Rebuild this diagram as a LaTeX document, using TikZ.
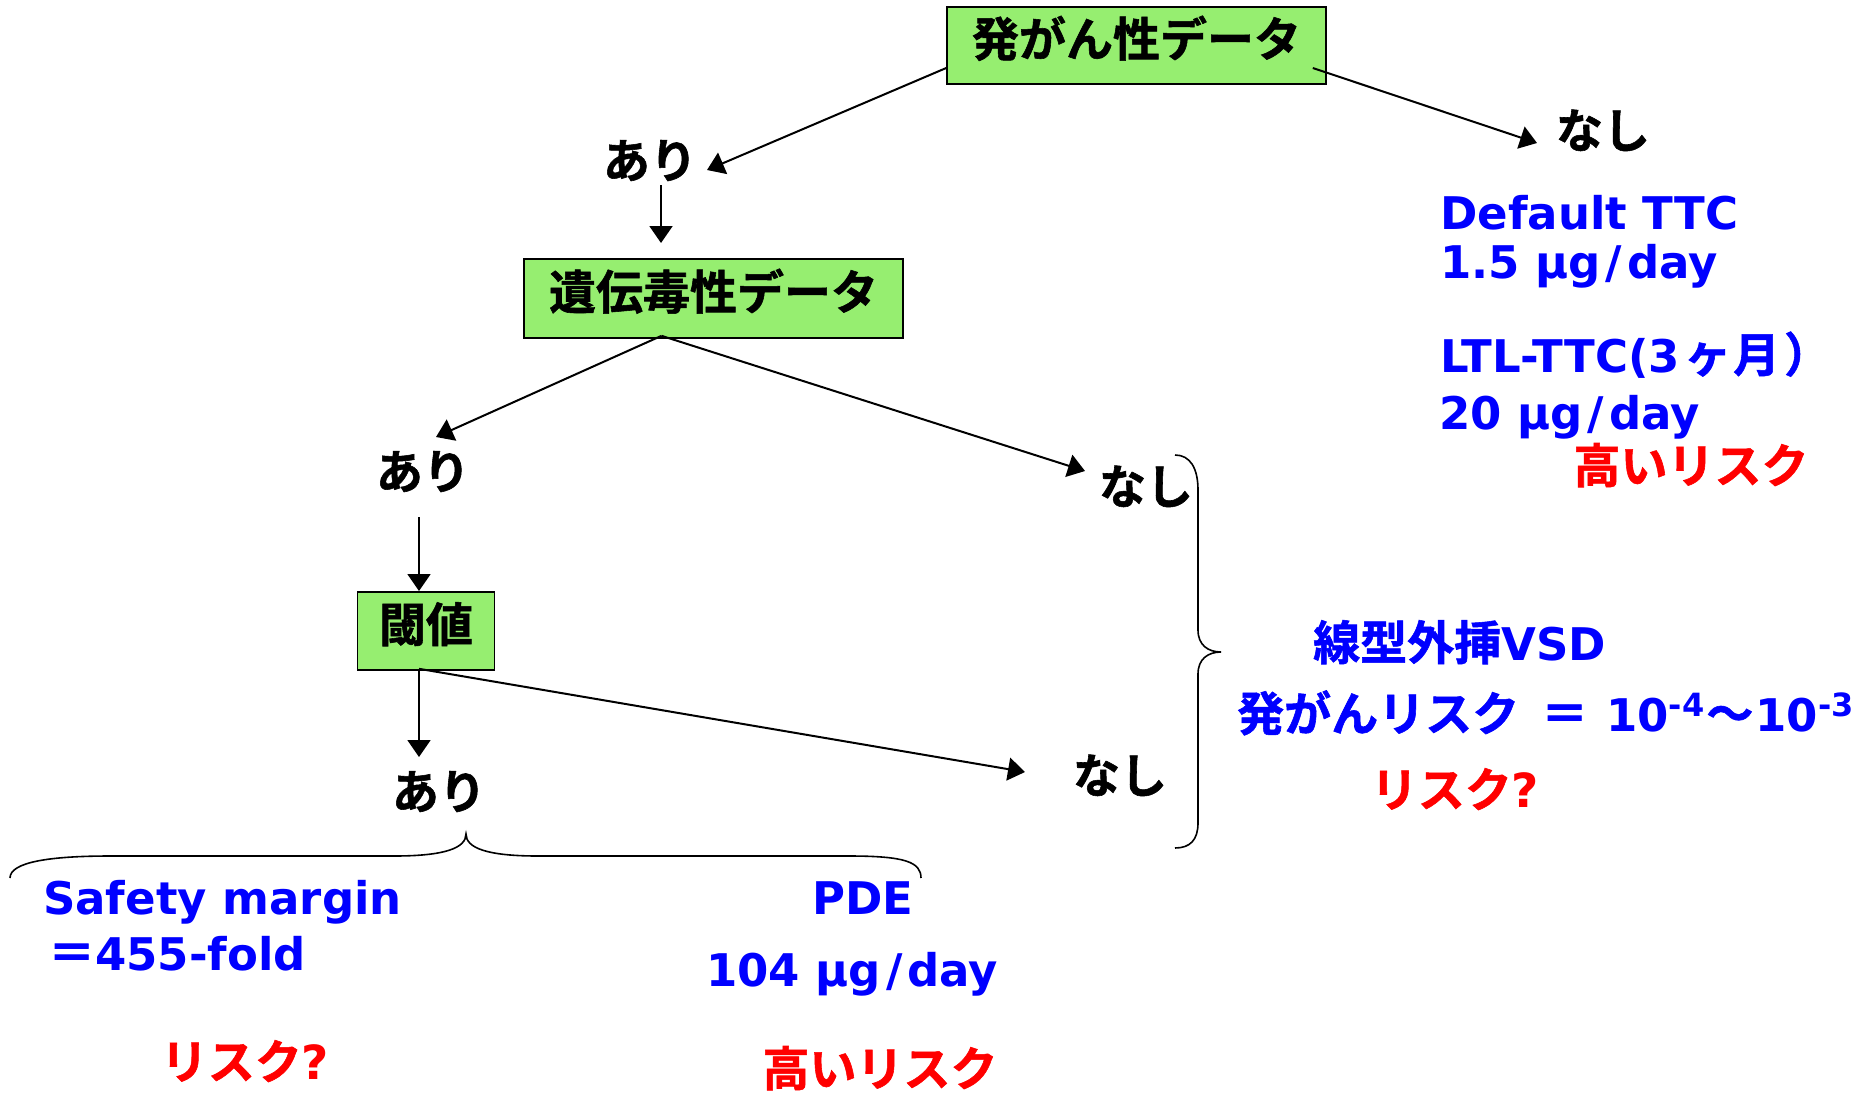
\documentclass[tikz,border=0pt]{standalone}
\usepackage{fontspec}
\setmainfont{DejaVu Sans}
\newfontfamily\jpf{Noto Sans CJK JP}[BoldFont={Noto Sans CJK JP Bold}, BoldFeatures={FakeBold=1.2}]
\usetikzlibrary{arrows.meta}
\definecolor{boxgreen}{RGB}{150,238,112}
\definecolor{tblue}{RGB}{0,0,255}
\definecolor{tred}{RGB}{255,0,0}
\newcommand\supx[1]{\raisebox{15pt}{\fontsize{32}{34}\selectfont #1}}
\newcommand\jb{\jpf\bfseries\fontsize{47}{56}\selectfont}
\newcommand\slx{\kern5pt/\kern5pt}
\begin{document}
\begin{tikzpicture}[x=1pt,y=-1pt,
  jp/.style={font={\jpf\bfseries\fontsize{47}{56}\selectfont}, inner sep=0pt, text height=36pt, text depth=2pt},
  en/.style={font={\bfseries\fontsize{45}{54}\selectfont}, inner sep=0pt, anchor=base west, text=tblue},
  gbox/.style={draw, line width=1.6pt, fill=boxgreen, inner sep=0pt, text height=30pt, text depth=8pt,
    font={\jpf\bfseries\fontsize{47}{56}\selectfont}},
  arr/.style={line width=2pt, -{Triangle[length=17pt,width=23pt]}},
  bracestyle/.style={line width=1.6pt}]
\useasboundingbox (0,0) rectangle (1868,1093);
\fill[white] (0,0) rectangle (1868,1093);

% boxes
\node[gbox, minimum width=379pt, minimum height=77pt] (b1) at (1136.5,45.5) {発がん性データ};
\node[gbox, minimum width=379pt, minimum height=79pt] (b2) at (713.5,298.5) {遺伝毒性データ};
\node[gbox, minimum width=137pt, minimum height=78pt] (b3) at (426,631) {閾値};

% black labels
\node[jp] (n1) at (1603,131) {なし};
\node[jp] (a1) at (650,161) {あり};
\node[jp] (a2) at (423,472) {あり};
\node[jp] (n2) at (1146,487) {なし};
\node[jp] (a3) at (439,792) {あり};
\node[jp] (n3) at (1120,776) {なし};

% connector end points
\coordinate (t1) at (707,170);
\coordinate (t2) at (1537,143);
\coordinate (s3) at (661,185);
\coordinate (t3) at (661,243);
\coordinate (t4) at (436,437);
\coordinate (t5) at (1085,471);
\coordinate (s6) at (419,517);
\coordinate (t6) at (419,591);
\coordinate (t7) at (419,757);
\coordinate (t8) at (1025,772);

\draw[arr] ([yshift=-22.5pt]b1.west) -- (t1);
\draw[arr] ([xshift=-14pt,yshift=-22.5pt]b1.east) -- (t2);
\draw[arr] (s3) -- (t3);
\draw[arr] ([xshift=-52pt,yshift=3pt]b2.south) -- (t4);
\draw[arr] ([xshift=-52pt,yshift=3pt]b2.south) -- (t5);
\draw[arr] (s6) -- (t6);
\draw[arr] ([xshift=-7pt,yshift=2pt]b3.south) -- (t7);
\draw[arr] ([xshift=-7pt,yshift=2pt]b3.south) -- (t8);

% braces
\draw[bracestyle] (1175,455) .. controls (1190,455) and (1198,468) .. (1198,490)
  -- (1198,630) .. controls (1198,645) and (1208,652) .. (1221,652)
  .. controls (1208,652) and (1198,659) .. (1198,674)
  -- (1198,823) .. controls (1198,840) and (1190,848) .. (1175,848);
\draw[bracestyle] (10,878) .. controls (10,862) and (50,856) .. (110,856)
  -- (394,856) .. controls (445,856) and (466,848) .. (466,834)
  .. controls (466,848) and (487,856) .. (538,856)
  -- (849,856) .. controls (905,856) and (921,862) .. (921,878);

% blue texts
\node[en] (d1) at (1440,229) {Default TTC};
\node[en] (d2) at (1440,278) {1.5 µg\slx day};
\node[en] (d3) at (1440,372) {LTL-TTC(3\kern4pt{\jb ヶ\kern2pt 月\kern4pt ）}};
\node[en] (d4) at (1439,429) {20 µg\slx day};
\node[en] (v1) at (1313,660) {{\jb 線型外挿}VSD};
\node[en] (v2) at (1237,731) {{\jb 発がんリスク}\hspace{22pt}{\jb ＝}\hspace{18pt}10\supx{-4}\kern2pt{\jb ～}\kern2pt 10\supx{-3}};
\node[en] (s1) at (43,914) {Safety margin};
\node[en] (s2) at (48,970) {{\jb ＝}455-fold};
\node[en] (p1) at (812,914) {PDE};
\node[en] (p2) at (706,986) {104 µg\slx day};

% red texts
\node[jp, text=tred] (r1) at (1691,466) {高いリスク};
\node[jp, text=tred] (r2) at (1455,790) {リスク{\rmfamily\bfseries ?}};
\node[jp, text=tred] (r3) at (245,1062) {リスク{\rmfamily\bfseries ?}};
\node[jp, text=tred] (r4) at (880,1069) {高いリスク};
\end{tikzpicture}
\end{document}
